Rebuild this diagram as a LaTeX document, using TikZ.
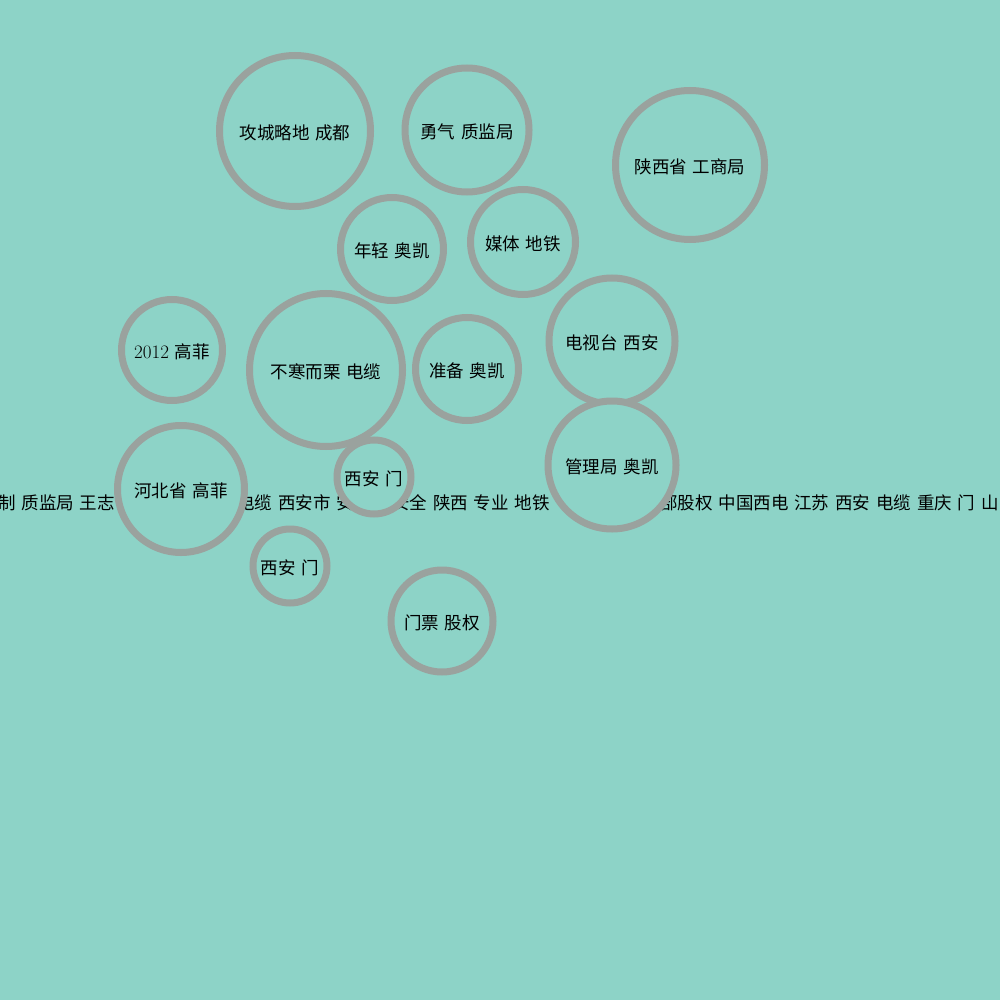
\documentclass[tikz,border=0pt]{standalone}
\usepackage{fontspec}
\newfontfamily\cjk[WordSpace=1.5]{Noto Sans CJK SC}
\definecolor{sea}{HTML}{8DD3C7}
\definecolor{ring}{HTML}{9AA29E}

\begin{document}
\begin{tikzpicture}[x=1pt,y=-1pt,font=\fontsize{17.5}{20}\selectfont\cjk,
  bub/.style={circle,draw=ring,line width=7pt,fill=sea,inner sep=0pt,minimum size=#1,
    text height=19.5pt,text depth=2pt},
  strip/.style={anchor=base west,inner sep=0pt}]
  \fill[sea] (0,0) rectangle (1000,1000);
  \clip (0,0) rectangle (1000,1000);
  % long label row, partly hidden behind the bubbles
  \node[strip] (row1) at (-2,509.5) {制 质监局 王志};
  \node[strip] (row2) at (237,509.5) {电缆 西安市 安};
  \node[strip] (row3) at (392,509.5) {安全 陕西 专业 地铁};
  \node[strip] (row4) at (660,509.5) {部股权 中国西电 江苏 西安 电缆 重庆 门 山};
  % bubbles
  \node[bub=151pt] (gongcheng) at (295,131) {攻城略地 成都};
  \node[bub=124pt] (yongqi) at (467,130) {勇气 质监局};
  \node[bub=149pt] (shaanxi) at (690,165) {陕西省 工商局};
  \node[bub=103pt] (nianqing) at (392,249) {年轻 奥凯};
  \node[bub=105pt] (meiti) at (523,242) {媒体 地铁};
  \node[bub=101pt] (gaofei) at (172,350) {{\rmfamily\fontsize{19}{20}\selectfont 2012} 高菲};
  \node[bub=153pt] (buhan) at (326,370) {不寒而栗 电缆};
  \node[bub=103pt] (zhunbei) at (467,369) {准备 奥凯};
  \node[bub=126pt] (dianshi) at (612,341) {电视台 西安};
  \node[bub=128pt] (guanli) at (612,465) {管理局 奥凯};
  \node[bub=74pt] (ximen) at (374,477) {西安 门};
  \node[bub=127pt] (hebei) at (181,489) {河北省 高菲};
  \node[bub=74pt] (ximenb) at (290,566) {西安 门};
  \node[bub=102pt] (menpiao) at (442,621) {门票 股权};
\end{tikzpicture}
\end{document}
